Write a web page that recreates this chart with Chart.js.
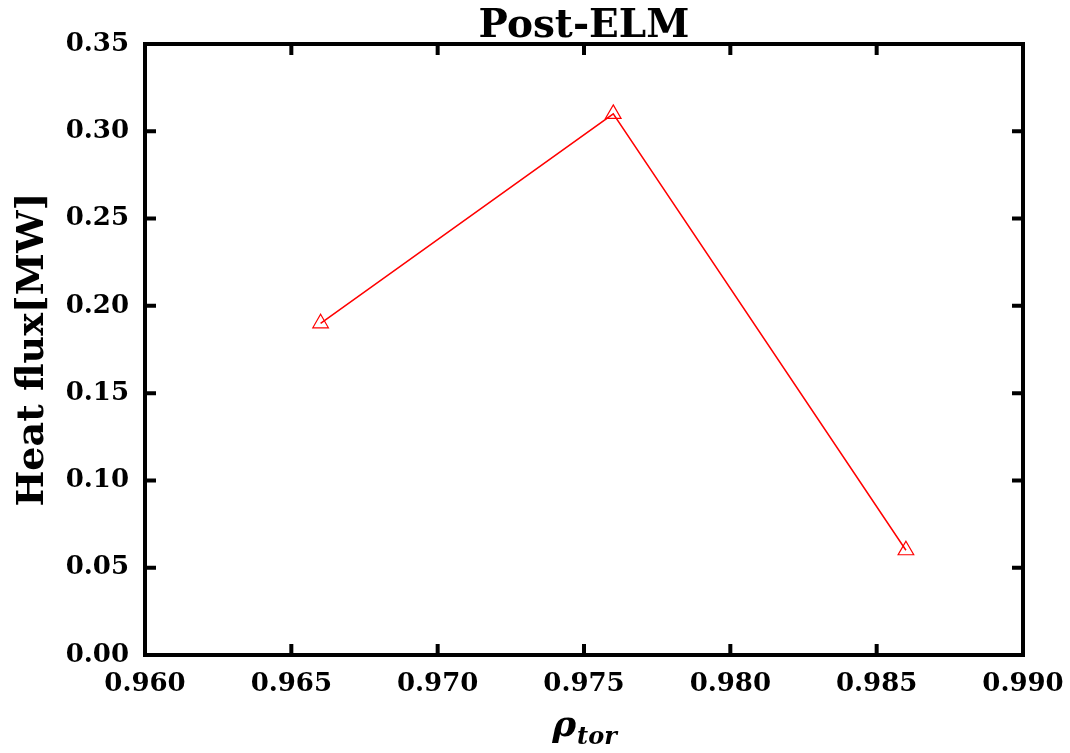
<!DOCTYPE html>
<html>
<head>
<meta charset="utf-8">
<script src="https://cdn.jsdelivr.net/npm/chart.js@4"></script>
<style>
  html, body { margin: 0; padding: 0; background: #fff; }
  #wrap { width: 1070px; height: 753px; }
</style>
</head>
<body>
<div id="wrap"><canvas id="grafica"></canvas></div>
<script>
// datos
const rhoTor = [0.966, 0.976, 0.986];
const heatFlux = [0.19, 0.31, 0.06];
const xTicks = [0.960, 0.965, 0.970, 0.975, 0.980, 0.985, 0.990];
const yTicks = [0.00, 0.05, 0.10, 0.15, 0.20, 0.25, 0.30, 0.35];

const fuente = '"DejaVu Serif", serif';

// marco con ticks hacia dentro en los cuatro lados, titulo y etiqueta del eje x
const marcoPlugin = {
  id: 'marco',
  afterDraw(chart) {
    const ctx = chart.ctx;
    const a = chart.chartArea;
    const sx = chart.scales.x, sy = chart.scales.y;
    ctx.save();
    ctx.strokeStyle = '#000';
    ctx.lineWidth = 4;
    ctx.strokeRect(a.left, a.top, a.right - a.left, a.bottom - a.top);
    const L = 11;
    ctx.beginPath();
    xTicks.forEach(v => {
      const px = sx.getPixelForValue(v);
      ctx.moveTo(px, a.bottom); ctx.lineTo(px, a.bottom - L);
      ctx.moveTo(px, a.top); ctx.lineTo(px, a.top + L);
    });
    yTicks.forEach(v => {
      const py = sy.getPixelForValue(v);
      ctx.moveTo(a.left, py); ctx.lineTo(a.left + L, py);
      ctx.moveTo(a.right, py); ctx.lineTo(a.right - L, py);
    });
    ctx.stroke();

    // titulo
    ctx.fillStyle = '#000';
    ctx.textAlign = 'center';
    ctx.textBaseline = 'alphabetic';
    ctx.font = 'bold 39px ' + fuente;
    ctx.fillText('Post-ELM', (a.left + a.right) / 2, 37);

    // etiqueta eje x: rho con subindice
    const cx = (a.left + a.right) / 2;
    ctx.textAlign = 'left';
    ctx.font = 'italic bold 36px ' + fuente;
    const wRho = ctx.measureText('ρ').width;
    ctx.font = 'italic bold 24px ' + fuente;
    const wSub = ctx.measureText('tor').width;
    const x0 = cx - (wRho + wSub) / 2;
    ctx.font = 'italic bold 36px ' + fuente;
    ctx.fillText('ρ', x0, 736);
    ctx.font = 'italic bold 24px ' + fuente;
    ctx.fillText('tor', x0 + wRho + 1, 744);
    ctx.restore();
  }
};

new Chart(document.getElementById('grafica'), {
  type: 'scatter',
  data: {
    datasets: [{
      data: rhoTor.map((x, i) => ({ x: x, y: heatFlux[i] })),
      showLine: true,
      borderColor: '#ff0000',
      borderWidth: 1.5,
      pointStyle: 'triangle',
      pointRadius: 9,
      pointBorderWidth: 1.2,
      pointBackgroundColor: 'rgba(0,0,0,0)',
      pointBorderColor: '#ff0000'
    }]
  },
  options: {
    responsive: true,
    maintainAspectRatio: false,
    animation: false,
    layout: { padding: { top: 44, right: 47, left: 0, bottom: 0 } },
    plugins: {
      legend: { display: false },
      tooltip: { enabled: false }
    },
    scales: {
      x: {
        type: 'linear',
        min: 0.960, max: 0.990,
        afterBuildTicks: s => { s.ticks = xTicks.map(v => ({ value: v })); },
        afterFit: s => { s.height = 98; s.paddingLeft = 0; s.paddingRight = 0; },
        grid: { display: false, drawTicks: false },
        border: { display: false },
        ticks: {
          color: '#000',
          padding: 14,
          font: { family: fuente, size: 26, weight: 'bold' },
          callback: v => v.toFixed(3)
        }
      },
      y: {
        min: 0, max: 0.35,
        afterBuildTicks: s => { s.ticks = yTicks.map(v => ({ value: v })); },
        afterFit: s => { s.width = 145; s.paddingTop = 0; s.paddingBottom = 0; },
        grid: { display: false, drawTicks: false },
        border: { display: false },
        title: {
          display: true,
          text: 'Heat flux[MW]',
          color: '#000',
          font: { family: fuente, size: 38, weight: 'bold' },
          padding: { top: 10, bottom: 0 }
        },
        ticks: {
          color: '#000',
          padding: 16,
          font: { family: fuente, size: 26, weight: 'bold' },
          callback: v => v.toFixed(2)
        }
      }
    }
  },
  plugins: [marcoPlugin]
});
</script>
</body>
</html>
